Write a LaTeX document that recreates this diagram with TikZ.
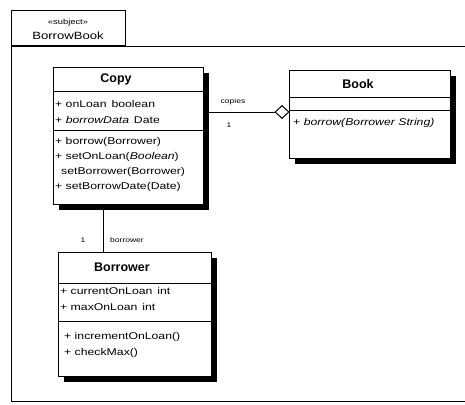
\documentclass[tikz,border=0pt]{standalone}
\usepackage{fontspec}
\setmainfont{Liberation Sans}
\newfontfamily\widefont[FakeStretch=1.25]{Liberation Sans}
\usetikzlibrary{shapes.geometric,shadows,calc}
\tikzset{
  frm/.style={draw, line width=1pt, inner sep=0pt},
  classbox/.style={draw, fill=white, line width=1pt, inner sep=0pt, anchor=north west,
    general shadow={fill=black, shadow xshift=5pt, shadow yshift=-5pt}},
  cname/.style={font=\fontsize{12.5}{13}\selectfont\bfseries, inner sep=0pt},
  mem/.style={font=\widefont\fontsize{9.8}{11}\selectfont, anchor=west, inner sep=0pt},
  lbl/.style={font=\widefont\fontsize{6.8}{8}\selectfont, inner sep=0pt},
  sep/.style={line width=0.9pt},
  conn/.style={line width=0.9pt},
  agg/.style={diamond, draw, fill=white, line width=1pt, minimum width=14pt, minimum height=13pt, inner sep=0pt}
}
\begin{document}
\begin{tikzpicture}[x=1pt,y=-1pt]
\useasboundingbox (0,0) rectangle (465,404);
% package frame (its right edge lies beyond the picture)
\node[frm, anchor=north west, minimum width=462pt, minimum height=355pt] (frame) at (11,46) {};
\node[frm, anchor=south west, minimum width=114pt, minimum height=35pt] (tab) at (11,46) {};
\node[font=\widefont\fontsize{7.5}{8}\selectfont, inner sep=0pt] (stereo) at (68,23) {«subject»};
\node[font=\widefont\fontsize{10.5}{11}\selectfont, inner sep=0pt] (pkgname) at (68,36) {BorrowBook};
% Copy class
\node[classbox, minimum width=150pt, minimum height=137pt] (copy) at (53,67) {};
\node[cname] (copyname) at (116,79) {Copy};
\draw[sep] (53,91) -- (203,91);
\node[mem] (c1) at (55,104) {+ onLoan\enspace boolean};
\node[mem] (c2) at (55,120) {+ \textit{borrowData}\enspace Date};
\draw[sep] (53,130) -- (203,130);
\node[mem] (c3) at (55,142) {+ borrow(Borrower)};
\node[mem] (c4) at (55,157) {+ setOnLoan(\textit{Boolean})};
\node[mem] (c5) at (61,172) {setBorrower(Borrower)};
\node[mem] (c6) at (55,187) {+ setBorrowDate(Date)};
% Book class
\node[classbox, minimum width=161pt, minimum height=88pt] (book) at (289,70) {};
\node[cname] (bookname) at (358,84) {Book};
\draw[sep] (289,97) -- (450,97);
\draw[sep] (289,110) -- (450,110);
\node[mem] (b1) at (293,123) {+ \textit{borrow(Borrower String)}};
% Borrower class
\node[classbox, minimum width=153pt, minimum height=124pt] (borrower) at (58,252) {};
\node[cname] (borrowername) at (122,267) {Borrower};
\draw[sep] (58,283) -- (211,283);
\node[mem] (r1) at (60,291) {+ currentOnLoan\enspace int};
\node[mem] (r2) at (60,307) {+ maxOnLoan\enspace int};
\draw[sep] (58,321) -- (211,321);
\node[mem] (r3) at (64,337) {+ incrementOnLoan()};
\node[mem] (r4) at (64,353) {+ checkMax()};
% association Copy -- Book
\node[agg] (dia) at (282,112) {};
\draw[conn] (copy.east |- dia) -- (dia.west);
\node[lbl] (copies) at (233,102) {copies};
\node[lbl] (one1) at (229,125) {1};
% association Copy -- Borrower
\coordinate (vx) at (103,0);
\draw[conn] (copy.south -| vx) -- (borrower.north -| vx);
\node[lbl] (one2) at (83,240) {1};
\node[lbl] (brw) at (127,240) {borrower};
\end{tikzpicture}
\end{document}
